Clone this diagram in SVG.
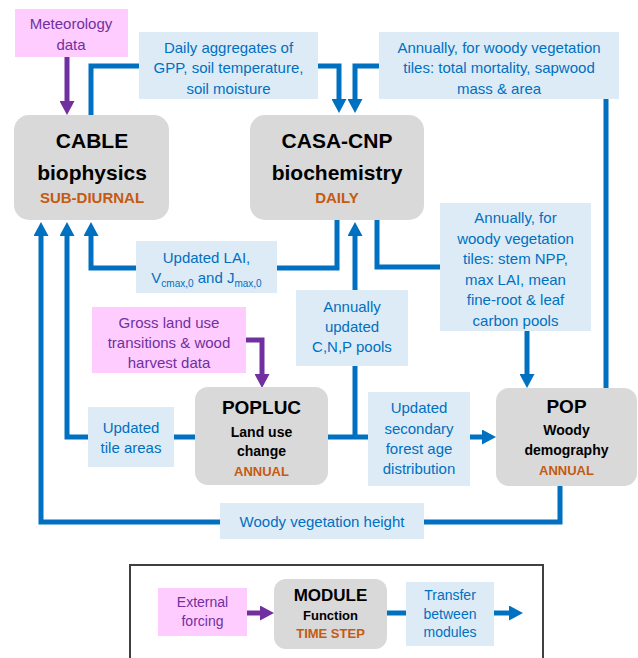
<svg xmlns="http://www.w3.org/2000/svg" width="638" height="658" viewBox="0 0 638 658">
<style>
text{font-family:"Liberation Sans",Arial,sans-serif;text-anchor:middle}
.lab{fill:#DDEBF7}
.ext{fill:#FFCCFF}
.mod{fill:#D9D9D9}
.lt{font-size:15px;fill:#0070C0}
.et{font-size:15px;fill:#7030A0}
.big{font-size:21px;font-weight:bold;fill:#000}
.mid{font-size:14px;font-weight:bold;fill:#000}
.ts{font-size:15px;font-weight:bold;fill:#C55A11}
.ts2{font-size:13px;font-weight:bold;fill:#C55A11}
.sub{font-size:10px}
.c{fill:none;stroke:#0070C0;stroke-width:5;stroke-linejoin:miter}
.p{fill:none;stroke:#7030A0;stroke-width:5}
</style>
<defs>
<marker id="ab" markerUnits="userSpaceOnUse" markerWidth="14" markerHeight="15" viewBox="0 0 14 15" refX="0" refY="7.5" orient="auto"><path d="M0,0 L14,7.5 L0,15 z" fill="#0070C0"/></marker>
<marker id="ap" markerUnits="userSpaceOnUse" markerWidth="14" markerHeight="15" viewBox="0 0 14 15" refX="0" refY="7.5" orient="auto"><path d="M0,0 L14,7.5 L0,15 z" fill="#7030A0"/></marker>
</defs>
<rect width="638" height="658" fill="#fff"/>
<g id="connectors">
<path class="c" d="M91,115 V66 H339 V99" marker-end="url(#ab)"/>
<path class="c" d="M606,388 V66 H355 V99" marker-end="url(#ab)"/>
<path class="c" d="M337,220 V268 H91 V236" marker-end="url(#ab)"/>
<path class="c" d="M355,437 V236" marker-end="url(#ab)"/>
<path class="c" d="M377,220 V267 H527 V374" marker-end="url(#ab)"/>
<path class="c" d="M328,437 H482" marker-end="url(#ab)"/>
<path class="c" d="M195,437 H67 V236" marker-end="url(#ab)"/>
<path class="c" d="M560,486 V522 H41 V236" marker-end="url(#ab)"/>
<path class="p" d="M67,57 V101" marker-end="url(#ap)"/>
<path class="p" d="M246,340 H262 V374" marker-end="url(#ap)"/>
<path class="p" d="M247,613 H260" marker-end="url(#ap)"/>
<path class="c" d="M387,613 H406"/>
<path class="c" d="M494,613 H509" marker-end="url(#ab)"/>
</g>
<g id="meteorology">
<rect class="ext" x="15" y="9" width="113" height="48"/>
<text class="et" x="71" y="29">Meteorology</text>
<text class="et" x="71" y="50">data</text>
</g>
<g id="daily-aggregates">
<rect class="lab" x="139" y="32" width="179" height="67"/>
<text class="lt" x="228.5" y="53">Daily aggregates of</text>
<text class="lt" x="228.5" y="73">GPP, soil temperature,</text>
<text class="lt" x="228.5" y="94">soil moisture</text>
</g>
<g id="annual-mortality">
<rect class="lab" x="379" y="32" width="240" height="67"/>
<text class="lt" x="499" y="53">Annually, for woody vegetation</text>
<text class="lt" x="499" y="73">tiles: total mortality, sapwood</text>
<text class="lt" x="499" y="94">mass &amp; area</text>
</g>
<g id="cable">
<rect class="mod" x="14" y="115" width="155" height="105" rx="15"/>
<text class="big" x="92" y="148">CABLE</text>
<text class="big" x="92" y="180">biophysics</text>
<text class="ts" x="92" y="203">SUB-DIURNAL</text>
</g>
<g id="casa">
<rect class="mod" x="250" y="115" width="174" height="105" rx="15"/>
<text class="big" x="337" y="148">CASA-CNP</text>
<text class="big" x="337" y="180">biochemistry</text>
<text class="ts" x="337" y="203">DAILY</text>
</g>
<g id="updated-lai">
<rect class="lab" x="136" y="241" width="141" height="52"/>
<text class="lt" x="206.5" y="263">Updated LAI,</text>
<text class="lt" x="206.5" y="283">V<tspan class="sub" dy="4">cmax,0</tspan><tspan dy="-4"> and J</tspan><tspan class="sub" dy="4">max,0</tspan></text>
</g>
<g id="cnp-pools">
<rect class="lab" x="296" y="290" width="112" height="76"/>
<text class="lt" x="352" y="312">Annually</text>
<text class="lt" x="352" y="332">updated</text>
<text class="lt" x="352" y="352">C,N,P pools</text>
</g>
<g id="annual-npp">
<rect class="lab" x="440" y="203" width="151" height="128"/>
<text class="lt" x="515.5" y="223">Annually, for</text>
<text class="lt" x="515.5" y="244">woody vegetation</text>
<text class="lt" x="515.5" y="264">tiles: stem NPP,</text>
<text class="lt" x="515.5" y="285">max LAI, mean</text>
<text class="lt" x="515.5" y="305">fine-root &amp; leaf</text>
<text class="lt" x="515.5" y="326">carbon pools</text>
</g>
<g id="land-use-data">
<rect class="ext" x="92" y="307" width="154" height="66"/>
<text class="et" x="169" y="328">Gross land use</text>
<text class="et" x="169" y="348">transitions &amp; wood</text>
<text class="et" x="169" y="368">harvest data</text>
</g>
<g id="tile-areas">
<rect class="lab" x="88" y="407" width="86" height="60"/>
<text class="lt" x="131" y="433">Updated</text>
<text class="lt" x="131" y="453">tile areas</text>
</g>
<g id="popluc">
<rect class="mod" x="195" y="387" width="133" height="98" rx="13"/>
<text class="big" x="261.5" y="414" style="font-size:19px">POPLUC</text>
<text class="mid" x="261.5" y="437">Land use</text>
<text class="mid" x="261.5" y="456">change</text>
<text class="ts2" x="261.5" y="476">ANNUAL</text>
</g>
<g id="secondary-forest">
<rect class="lab" x="368" y="392" width="102" height="94"/>
<text class="lt" x="419" y="413">Updated</text>
<text class="lt" x="419" y="434">secondary</text>
<text class="lt" x="419" y="454">forest age</text>
<text class="lt" x="419" y="474">distribution</text>
</g>
<g id="pop">
<rect class="mod" x="496" y="388" width="141" height="98" rx="13"/>
<text class="big" x="566.5" y="413" style="font-size:19px">POP</text>
<text class="mid" x="566.5" y="435">Woody</text>
<text class="mid" x="566.5" y="455">demography</text>
<text class="ts2" x="566.5" y="475">ANNUAL</text>
</g>
<g id="veg-height">
<rect class="lab" x="220" y="503" width="204" height="36"/>
<text class="lt" x="322" y="527">Woody vegetation height</text>
</g>
<g id="legend">
<rect x="130" y="565" width="413" height="120" fill="none" stroke="#404040" stroke-width="2"/>
<g id="legend-external">
<rect class="ext" x="158" y="588" width="89" height="48"/>
<text x="202.5" y="607" style="font-size:14px;fill:#7030A0">External</text>
<text x="202.5" y="626" style="font-size:14px;fill:#7030A0">forcing</text>
</g>
<g id="legend-module">
<rect class="mod" x="274" y="579" width="113" height="70" rx="12"/>
<text x="330.5" y="601" style="font-size:17px;font-weight:bold;fill:#000">MODULE</text>
<text x="330.5" y="620" style="font-size:13px;font-weight:bold;fill:#000">Function</text>
<text class="ts2" x="330.5" y="638">TIME STEP</text>
</g>
<g id="legend-transfer">
<rect class="lab" x="406" y="582" width="88" height="64"/>
<text x="450" y="600" style="font-size:14px;fill:#0070C0">Transfer</text>
<text x="450" y="619" style="font-size:14px;fill:#0070C0">between</text>
<text x="450" y="637" style="font-size:14px;fill:#0070C0">modules</text>
</g>
</g>
</svg>
